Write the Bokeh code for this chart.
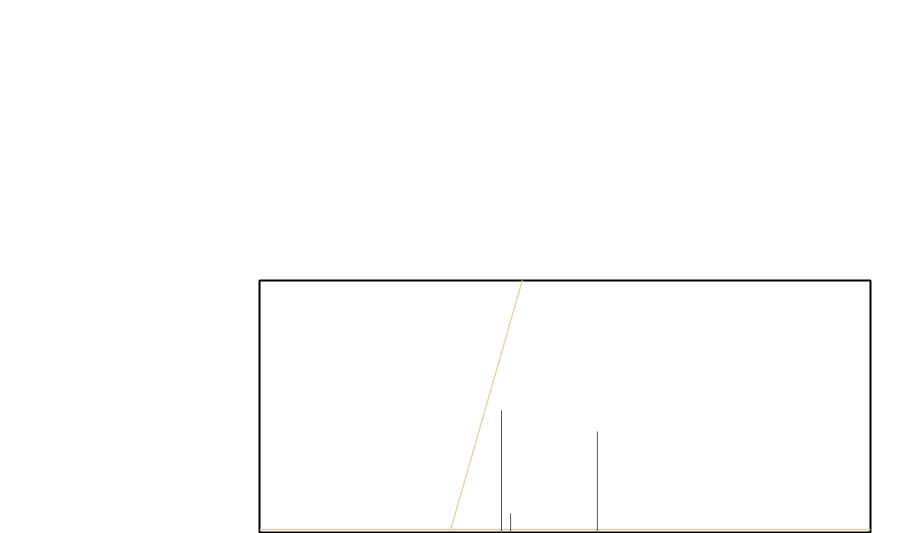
from bokeh.plotting import figure
from bokeh.models import Range1d
from bokeh.embed import file_html
from bokeh.resources import INLINE

# Data (arbitrary units)
baseline_x = [0, 100]
baseline_y = [1.6, 1.6]

ramp_x = [31.3, 43.6]
ramp_y = [1.6, 105.0]

stick_x = [39.6, 41.1, 55.3]
stick_h = [48.6, 7.9, 40.3]
stick_base = [0.0, 0.0, 0.0]

p = figure(width=884, height=533, output_backend="svg", toolbar_location=None,
           x_axis_location=None, y_axis_location=None,
           x_range=Range1d(0, 100), y_range=Range1d(0, 100),
           min_border_left=259, min_border_right=14,
           min_border_top=280, min_border_bottom=0)
p.grid.visible = False
p.outline_line_color = "black"
p.outline_line_width = 2
p.background_fill_color = "white"
p.border_fill_color = "white"

p.line(baseline_x, baseline_y, line_color="#dccdaa", line_width=1.5)
p.line(ramp_x, ramp_y, line_color="#e6d6a6", line_width=1.5)
p.segment(x0=stick_x, y0=stick_base, x1=stick_x, y1=stick_h,
          line_color="#555555", line_width=1)

open("out.html", "w").write(file_html(p, INLINE))
